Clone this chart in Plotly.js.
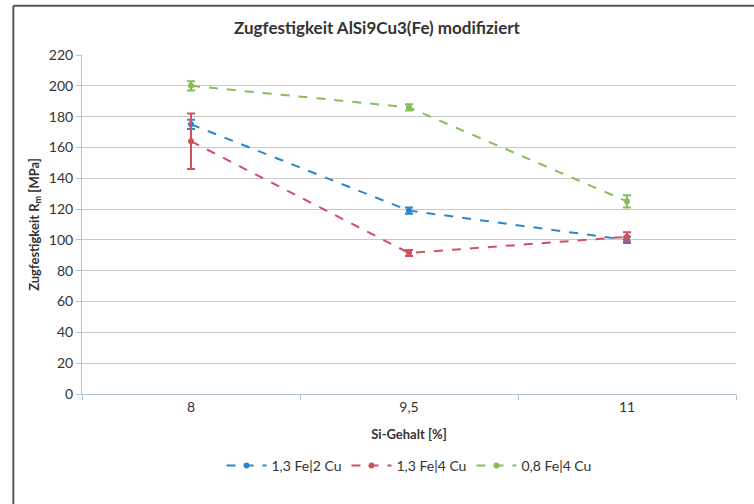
<!DOCTYPE html>
<html>
<head>
<meta charset="utf-8">
<script src="https://cdn.plot.ly/plotly-3.0.1.min.js"></script>
<style>html,body{margin:0;padding:0;background:#fff;}#chart{width:754px;height:504px;}</style>
</head>
<body>
<div id="chart"></div>
<script>
const categories = ["8", "9,5", "11"];
const seriesNames = ["1,3 Fe|2 Cu", "1,3 Fe|4 Cu", "0,8 Fe|4 Cu"];
const blueValues = [175, 119, 100];
const blueErrors = [3, 2, 2];
const redValues = [164, 91.5, 102];
const redErrors = [18, 2, 3];
const greenValues = [200, 186, 125];
const greenErrors = [3, 2, 4];
const yTicks = [0, 20, 40, 60, 80, 100, 120, 140, 160, 180, 200, 220];

const colors = ["#2e86c9", "#d0505e", "#86bd5a"];
const vals = [blueValues, redValues, greenValues];
const errs = [blueErrors, redErrors, greenErrors];

const traces = vals.map((v, i) => ({
  type: "scatter",
  mode: "lines+markers",
  name: seriesNames[i],
  x: categories,
  y: v,
  line: {color: colors[i], width: 2, dash: "dash"},
  marker: {color: colors[i], size: 6, symbol: "circle"},
  error_y: {type: "data", array: errs[i], visible: true, color: colors[i], thickness: 2, width: 4}
}));

const font = "Lato, 'Open Sans', sans-serif";
const layout = {
  width: 754, height: 504,
  margin: {l: 82, r: 18, t: 55, b: 110},
  paper_bgcolor: "#ffffff",
  plot_bgcolor: "#ffffff",
  font: {family: font, color: "#333333", size: 13},
  title: {text: "<b>Zugfestigkeit AlSi9Cu3(Fe) modifiziert</b>", font: {size: 17, family: font, color: "#333"}, x: 0.5, xanchor: "center", y: 0.945, yanchor: "middle"},
  xaxis: {
    type: "category",
    categoryorder: "array", categoryarray: categories,
    range: [-0.5, 2.5],
    tickson: "boundaries",
    ticks: "outside", ticklen: 5, tickcolor: "#b0c4d4",
    showline: true, linecolor: "#b0c4d4", linewidth: 1,
    showgrid: false, zeroline: false,
    tickfont: {size: 14, color: "#333"},
    title: {text: "<b>Si-Gehalt [%]</b>", font: {size: 13, color: "#333"}, standoff: 16}
  },
  yaxis: {
    range: [0, 220],
    tickvals: yTicks,
    ticks: "outside", ticklen: 5, tickcolor: "#b0c4d4",
    showline: true, linecolor: "#b0c4d4", linewidth: 1,
    showgrid: true, gridcolor: "#c9c9c9", gridwidth: 1,
    zeroline: false,
    tickfont: {size: 14, color: "#333"},
    title: {text: "<b>Zugfestigkeit R<sub>m</sub> [MPa]</b>", font: {size: 13, color: "#333"}, standoff: 6}
  },
  legend: {orientation: "h", x: 0.5, xanchor: "center", y: -0.165, yanchor: "top", font: {size: 14, color: "#333"}, itemwidth: 40, tracegroupgap: 0},
  shapes: [
    {type: "line", xref: "paper", yref: "paper", x0: -0.105, x1: 1.03, y0: 1.145, y1: 1.145, line: {color: "#555", width: 2}},
    {type: "line", xref: "paper", yref: "paper", x0: -0.105, x1: -0.105, y0: 1.145, y1: -0.33, line: {color: "#555", width: 2}}
  ],
  showlegend: true
};

Plotly.newPlot("chart", traces, layout, {displayModeBar: false, staticPlot: true});
</script>
</body>
</html>
